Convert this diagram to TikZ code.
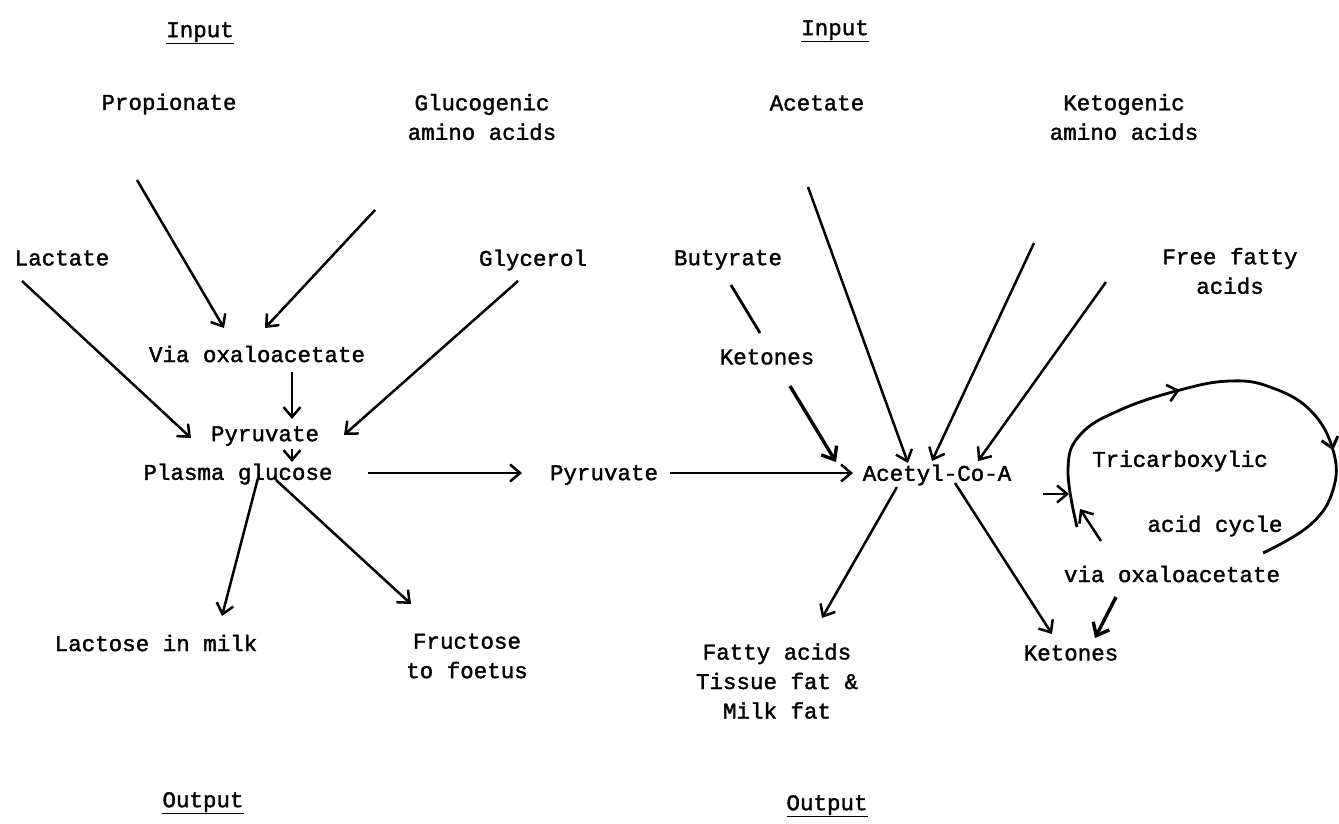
\documentclass[tikz,border=0pt]{standalone}
\usepackage{fontspec}
\setmonofont{Liberation Mono}[FakeBold=1.6]
\usetikzlibrary{arrows.meta,decorations.markings}
\begin{document}
\begin{tikzpicture}[x=1pt,y=-1pt,
  lbl/.style={font=\ttfamily\fontsize{22.5}{29.5}\selectfont, inner sep=0pt, align=center},
  arr/.style={line width=2.5pt, -{Straight Barb[length=10pt,width=17pt]}},
  heavy/.style={line width=3.4pt, -{Straight Barb[length=11pt,width=18pt]}},
  plain/.style={line width=2.8pt}]
\useasboundingbox (0,0) rectangle (1339,823);
% headings
\node[lbl] (inL) at (200,33) {\underline{Input}};
\node[lbl] (inR) at (835,31) {\underline{Input}};
\node[lbl] (outL) at (203,803) {\underline{Output}};
\node[lbl] (outR) at (827,806) {\underline{Output}};
% left part
\node[lbl] (prop) at (169,104) {Propionate};
\node[lbl] (gluco) at (482,117) {Glucogenic\\amino acids};
\node[lbl] (lact) at (62,258) {Lactate};
\node[lbl] (glyc) at (533,260) {Glycerol};
\node[lbl] (via) at (257,354) {Via oxaloacetate};
\node[lbl] (pyrL) at (265,436) {Pyruvate};
\node[lbl] (plasma) at (238,474) {Plasma glucose};
\node[lbl] (lacto) at (156,643) {Lactose in milk};
\node[lbl] (fruct) at (467,656) {Fructose\\to foetus};
% middle
\node[lbl] (pyrM) at (604,475) {Pyruvate};
% right part
\node[lbl] (acet) at (817,103) {Acetate};
\node[lbl] (keto) at (1124,117) {Ketogenic\\amino acids};
\node[lbl] (buty) at (728,260) {Butyrate};
\node[lbl] (ffa) at (1230,271) {Free fatty\\acids};
\node[lbl] (ketT) at (767,357) {Ketones};
\node[lbl] (acoa) at (937,475) {Acetyl-Co-A};
\node[lbl] (tca1) at (1180,461) {Tricarboxylic};
\node[lbl] (tca2) at (1215,526) {acid cycle};
\node[lbl] (viaR) at (1172,574) {via oxaloacetate};
\node[lbl] (ketR) at (1071,653) {Ketones};
\node[lbl] (fat) at (777,681) {Fatty acids\\Tissue fat \&\\Milk fat};
% connector end points
\coordinate (a1) at (137,180); \coordinate (b1) at (224,328);
\coordinate (a2) at (375,210); \coordinate (b2) at (265,328);
\coordinate (a3) at (22,281);  \coordinate (b3) at (191,438);
\coordinate (a4) at (518,281); \coordinate (b4) at (344,435);
\coordinate (a5) at (292,372); \coordinate (b5) at (292,419);
\coordinate (a6) at (292,449); \coordinate (b6) at (292,462);
\coordinate (a7) at (368,473); \coordinate (b7) at (522,473);
\coordinate (a8) at (670,473); \coordinate (b8) at (853,473);
\coordinate (a9) at (258,478); \coordinate (b9) at (222,616);
\coordinate (a10) at (276,480); \coordinate (b10) at (411,604);
\coordinate (a11) at (731,285); \coordinate (b11) at (760,333);
\coordinate (a12) at (790,386); \coordinate (b12) at (836,462);
\coordinate (a13) at (808,187); \coordinate (b13) at (908,463);
\coordinate (a14) at (1034,243); \coordinate (b14) at (932,461);
\coordinate (a15) at (1106,282); \coordinate (b15) at (978,461);
\coordinate (a16) at (1043,494); \coordinate (b16) at (1069,494);
\coordinate (a17) at (897,487); \coordinate (b17) at (822,618);
\coordinate (a18) at (955,483); \coordinate (b18) at (1052,634);
\coordinate (a19) at (1116,597); \coordinate (b19) at (1095,638);
\coordinate (a20) at (1101,541); \coordinate (b20) at (1080,509);
% connectors
\draw[arr] (a1) -- (b1);
\draw[arr] (a2) -- (b2);
\draw[arr] (a3) -- (b3);
\draw[arr] (a4) -- (b4);
\draw[arr] (a5) -- (b5);
\draw[arr] (a6) -- (b6);
\draw[arr] (a7) -- (b7);
\draw[arr] (a8) -- (b8);
\draw[arr] (a9) -- (b9);
\draw[arr] (a10) -- (b10);
\draw[plain] (a11) -- (b11);
\draw[heavy] (a12) -- (b12);
\draw[arr] (a13) -- (b13);
\draw[arr] (a14) -- (b14);
\draw[arr] (a15) -- (b15);
\draw[arr] (a16) -- (b16);
\draw[arr] (a17) -- (b17);
\draw[arr] (a18) -- (b18);
\draw[heavy] (a19) -- (b19);
\draw[arr] (a20) -- (b20);
% cycle
\draw[line width=2.8pt, postaction={decorate}, decoration={markings,
    mark=at position 0.39 with {\arrow[line width=2.6pt]{Straight Barb[length=10pt,width=17pt]}},
    mark=at position 0.74 with {\arrow[line width=3pt]{Straight Barb[length=10pt,width=17pt]}}}]
  plot[smooth, tension=0.7] coordinates {(1077,527) (1068,470) (1080,435) (1120,410) (1180,390) (1230,381) (1270,387) (1310,410) (1333,450) (1333,490) (1310,525) (1263,553)};
\end{tikzpicture}
\end{document}
